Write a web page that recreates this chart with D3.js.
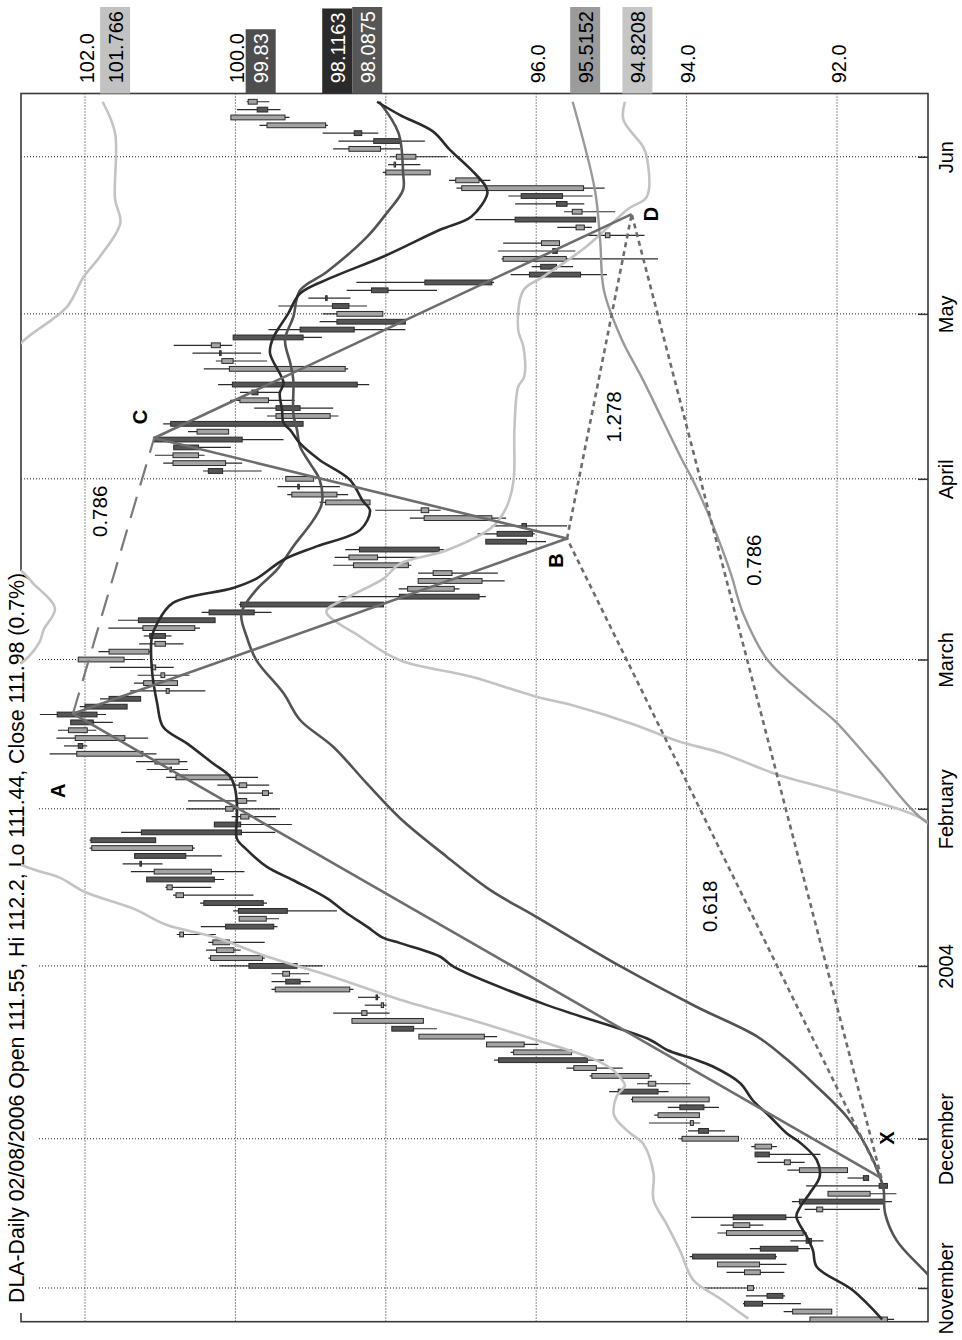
<!DOCTYPE html>
<html><head><meta charset="utf-8">
<script src="https://cdn.jsdelivr.net/npm/d3@7"></script>
<style>
body{margin:0;background:#fff}
svg text{font-family:"Liberation Sans",Arial,Helvetica,sans-serif}
</style>
</head><body>
<svg id="c" width="962" height="1340"></svg>
<script>
// ---------------- DATA ----------------
const dates = [
"2003-10-28","2003-10-29","2003-10-30","2003-10-31",
"2003-11-03","2003-11-04","2003-11-05","2003-11-06","2003-11-07","2003-11-10","2003-11-11","2003-11-12","2003-11-13","2003-11-14","2003-11-17","2003-11-18","2003-11-19","2003-11-20","2003-11-21","2003-11-24","2003-11-25","2003-11-26","2003-11-28",
"2003-12-01","2003-12-02","2003-12-03","2003-12-04","2003-12-05","2003-12-08","2003-12-09","2003-12-10","2003-12-11","2003-12-12","2003-12-15","2003-12-16","2003-12-17","2003-12-18","2003-12-19","2003-12-22","2003-12-23","2003-12-24","2003-12-26","2003-12-29","2003-12-30","2003-12-31",
"2004-01-02","2004-01-05","2004-01-06","2004-01-07","2004-01-08","2004-01-09","2004-01-12","2004-01-13","2004-01-14","2004-01-15","2004-01-16","2004-01-20","2004-01-21","2004-01-22","2004-01-23","2004-01-26","2004-01-27","2004-01-28","2004-01-29","2004-01-30",
"2004-02-02","2004-02-03","2004-02-04","2004-02-05","2004-02-06","2004-02-09","2004-02-10","2004-02-11","2004-02-12","2004-02-13","2004-02-17","2004-02-18","2004-02-19","2004-02-20","2004-02-23","2004-02-24","2004-02-25","2004-02-26","2004-02-27",
"2004-03-01","2004-03-02","2004-03-03","2004-03-04","2004-03-05","2004-03-08","2004-03-09","2004-03-10","2004-03-11","2004-03-12","2004-03-15","2004-03-16","2004-03-17","2004-03-18","2004-03-19","2004-03-22","2004-03-23","2004-03-24","2004-03-25","2004-03-26","2004-03-29","2004-03-30","2004-03-31",
"2004-04-01","2004-04-02","2004-04-05","2004-04-06","2004-04-07","2004-04-08","2004-04-12","2004-04-13","2004-04-14","2004-04-15","2004-04-16","2004-04-19","2004-04-20","2004-04-21","2004-04-22","2004-04-23","2004-04-26","2004-04-27","2004-04-28","2004-04-29","2004-04-30",
"2004-05-03","2004-05-04","2004-05-05","2004-05-06","2004-05-07","2004-05-10","2004-05-11","2004-05-12","2004-05-13","2004-05-14","2004-05-17","2004-05-18","2004-05-19","2004-05-20","2004-05-21","2004-05-24","2004-05-25","2004-05-26","2004-05-27","2004-05-28",
"2004-06-01","2004-06-02","2004-06-03","2004-06-04","2004-06-07","2004-06-08","2004-06-09","2004-06-10"];

const open = [91.33,92.07,93.23,92.93,93.11,null,93.02,93.03,93.92,93.02,92.41,92.45,93.16,93.38,92.19,92.50,91.56,91.44,91.65,91.86,92.62,93.09,92.87,
93.31,93.84,93.91,93.83,94.09,93.70,94.91,94.41,94.50,95.20,96.50,95.53,96.16,96.69,97.92,97.50,98.25,98.03,98.13,98.48,99.33,99.28,
99.82,99.64,100.02,100.08,100.69,100.13,99.59,99.96,100.42,100.69,100.84,101.18,100.32,101.27,101.34,100.57,101.92,101.25,100.28,99.82,
100.03,99.85,99.56,99.85,100.07,100.87,100.75,101.23,102.09,101.47,101.97,102.19,102.37,102.00,101.68,100.88,100.77,100.94,101.06,
101.48,101.15,100.93,101.14,100.54,101.29,100.35,99.93,97.82,97.09,96.72,97.12,97.70,98.11,98.35,96.67,96.52,96.19,96.59,97.43,98.21,98.65,99.17,
98.96,100.36,100.13,100.49,100.82,101.08,100.09,100.86,98.74,99.46,99.56,99.78,100.04,null,98.54,100.03,100.21,100.20,100.03,99.14,98.65,
98.04,98.71,98.80,98.19,97.48,96.09,95.94,95.60,95.78,95.69,95.02,95.36,96.28,95.39,95.73,96.20,95.37,96.76,97.41,97.87,
97.60,98.07,98.16,98.42,98.80,99.34,99.71,99.71];
const high = [92.36,92.71,93.25,93.21,93.79,null,93.47,93.59,93.96,93.16,92.62,93.59,93.55,93.94,92.43,92.60,92.12,92.41,91.86,92.66,93.06,93.09,93.14,
94.10,93.98,94.50,94.43,94.25,94.74,95.03,94.66,95.29,95.60,96.56,96.34,96.66,97.56,97.92,98.45,98.70,98.28,98.37,99.52,99.52,99.52,
100.21,100.36,100.39,100.36,100.78,100.46,99.95,100.03,100.47,100.83,100.93,101.18,101.39,101.50,101.34,101.94,101.94,101.52,100.28,100.05,
100.65,100.63,99.96,100.24,100.92,101.18,101.32,102.47,102.28,102.38,102.36,102.19,102.60,102.07,101.80,101.40,101.35,101.30,101.67,
102.09,101.82,101.28,101.22,101.69,101.56,100.45,99.95,98.63,97.83,97.57,97.57,98.70,98.68,98.54,96.67,96.78,96.59,97.68,98.14,98.88,99.31,99.44,
99.33,100.43,100.96,101.07,100.82,101.08,100.63,100.96,99.58,99.75,100.07,99.94,100.23,null,100.42,100.26,100.57,100.82,100.03,99.56,98.88,
98.84,99.43,99.03,98.52,98.39,96.34,96.06,96.46,96.51,96.44,95.34,95.72,96.81,95.63,96.28,96.37,97.06,97.16,98.04,97.97,
97.95,98.70,98.63,98.84,99.68,100.06,99.98,99.85];
const low = [91.24,92.07,92.48,92.69,93.09,null,92.70,92.67,92.80,92.36,92.18,92.40,92.98,92.47,91.43,91.27,91.21,91.33,91.58,91.86,92.43,92.22,92.80,
93.31,93.49,93.82,93.83,93.57,93.70,94.24,93.95,94.46,94.85,95.10,95.50,95.97,96.52,97.32,97.50,97.95,97.99,98.08,98.43,99.00,99.02,
98.84,99.61,99.93,99.61,100.26,99.44,99.42,98.65,99.58,99.76,100.32,100.15,99.88,100.97,100.18,100.54,101.06,99.47,99.25,99.46,
99.41,99.72,99.50,99.55,99.70,100.63,100.64,101.05,101.97,101.16,101.85,101.63,101.72,101.44,101.26,100.40,100.77,100.61,100.82,
101.22,101.11,100.69,100.85,100.47,100.27,99.52,98.03,96.67,97.02,96.42,96.51,97.66,97.58,97.23,95.87,96.02,95.59,96.40,97.27,98.21,98.50,98.61,
98.96,99.65,99.91,100.41,100.06,99.36,100.09,99.10,98.63,98.70,99.21,99.41,98.22,null,98.50,99.58,99.66,100.04,98.85,97.74,97.74,
98.04,98.25,98.47,97.32,96.56,95.06,95.51,94.38,95.48,95.69,94.56,95.26,95.21,94.95,95.36,95.25,95.09,96.61,97.41,97.54,
97.19,97.81,97.48,98.10,98.77,99.28,99.40,99.55];
const close = [92.36,92.59,92.99,92.72,93.19,null,93.23,93.59,92.82,92.52,92.34,93.47,93.38,92.68,92.27,91.38,92.12,91.33,91.58,92.50,92.70,92.90,93.09,
94.06,93.71,93.95,94.38,93.77,94.72,94.38,94.51,95.26,95.50,95.32,96.30,96.66,97.56,97.63,98.45,98.32,98.06,98.11,99.47,99.14,99.37,
99.18,100.33,100.25,100.30,100.74,99.49,99.95,99.31,99.63,100.79,100.91,100.28,101.08,101.25,100.66,101.91,101.06,99.92,99.93,99.93,
100.13,99.98,99.64,99.95,100.79,100.85,101.07,102.11,102.03,102.13,102.22,101.89,101.84,101.44,101.26,100.92,101.22,100.99,101.11,
102.09,101.68,101.07,100.93,101.23,100.27,99.75,98.03,96.76,97.71,97.57,97.37,98.43,98.49,97.29,96.13,96.05,96.13,97.49,97.53,98.80,99.25,99.15,
99.33,100.17,100.83,100.83,100.49,99.91,100.51,99.10,99.46,99.14,99.94,99.70,98.38,null,100.08,100.18,100.19,100.32,99.10,98.42,97.74,
98.65,98.49,98.78,97.97,96.59,95.41,95.73,96.44,95.72,95.93,95.08,95.47,95.21,95.52,95.59,95.65,96.99,97.07,98.00,97.89,
97.86,98.49,97.81,98.32,99.58,100.06,99.57,99.83];

// indicator lines: [trading-day index, price]
const maFast = [[0,91.40],[3.7,91.79],[6.7,92.27],[8.8,92.32],[10.5,92.40],[13.1,92.54],[14.3,92.49],[16.1,92.36],[18.2,92.23],[20.3,92.27],[22.5,92.49],[23.7,92.67],[25.8,92.89],[27.9,93.12],[30.1,93.29],[32.2,93.65],[33.2,93.92],[34.3,94.26],[35.6,94.49],[40.2,95.91],[44.9,97.10],[46.2,97.28],[47.9,97.81],[48.6,98.04],[50.0,98.25],[51.7,98.52],[53.6,98.78],[55.9,99.23],[57.6,99.58],[59.8,99.85],[61.2,99.98],[63.8,99.98],[65.7,99.98],[67.8,100.01],[69.1,100.07],[70.8,100.30],[73.3,100.64],[75.4,100.96],[78.4,101.04],[82.7,101.11],[86.9,101.11],[88.6,101.04],[91.2,100.83],[93.1,100.03],[94.3,99.72],[96.7,99.36],[98.4,98.92],[100.5,98.34],[103.0,98.21],[104.1,98.30],[106.9,98.48],[109.4,98.88],[111.5,99.14],[113.2,99.27],[114.1,99.36],[115.8,99.38],[117.9,99.41],[119.2,99.36],[123.0,99.54],[124.9,99.50],[128.0,99.30],[130.6,99.14],[132.7,98.70],[135.3,98.03],[138.7,97.28],[140.4,96.86],[143.3,96.65],[144.2,96.67],[146.3,96.86],[148.9,97.15],[151.2,97.37],[153.3,97.81],[155,98.1163]];
const maSlow = [[3,90.5],[6.3,90.85],[10.1,91.21],[13.5,91.36],[16.5,91.38],[18.2,91.43],[22.0,91.61],[25.8,91.87],[30.1,92.32],[33.2,92.68],[36.0,93.06],[39.8,93.87],[44.9,94.87],[51.3,96.01],[54.7,96.62],[58.9,97.19],[63.8,97.81],[68.2,98.25],[72.9,98.70],[76.3,99.14],[79.7,99.36],[83.9,99.72],[86.9,99.85],[89.9,99.92],[92.9,99.72],[95.4,99.45],[98.4,99.23],[101.8,98.96],[103.9,98.85],[106.9,98.88],[109.0,99.01],[111.1,99.14],[113.2,99.18],[115.3,99.23],[119.6,99.23],[121.7,99.27],[124.7,99.34],[127.6,99.23],[131.0,99.14],[133.3,98.79],[137.8,98.25],[140.8,97.99],[143.8,97.77],[145.9,97.77],[151.0,97.83],[155,98.0875]];
const bandUpper = [[0.1,93.18],[2.7,93.56],[5.0,93.91],[8.8,94.09],[12.2,94.27],[15.2,94.44],[18.6,94.44],[22.4,94.58],[23.7,94.75],[25.4,94.93],[26.2,94.97],[28.4,94.93],[29.8,94.82],[30.5,94.86],[31.7,94.97],[33.2,95.25],[35.6,96.01],[38.1,96.86],[40.7,97.81],[43.6,98.70],[46.2,99.58],[48.7,100.29],[50.2,100.91],[52.3,101.36],[54.4,102.0],[56.2,102.33],[57.3,102.69],[59,103.1],[62,103.4],[66,103.6],[72,103.6],[78,103.5],[82,103.1],[83.9,102.80],[86.3,102.60],[87.8,102.55],[90.5,102.40],[93.7,102.69],[95.4,102.86],[98,103.3],[105,103.6],[112,103.7],[118,103.5],[122,103.1],[124.9,102.78],[128.9,102.24],[132.7,102.02],[135.3,101.80],[139.6,101.53],[142.6,101.60],[151.0,101.60],[155,101.766]];
const bandLower = [[60,90.3],[63.8,90.88],[64.9,91.16],[67.8,92.21],[69.3,92.78],[72.1,93.54],[73.6,94.11],[75.8,94.72],[78.2,95.53],[79.3,96.01],[81.8,96.86],[83.9,97.81],[86.9,98.34],[90.1,98.79],[91.6,98.57],[94.3,98.03],[96.2,97.81],[97.9,97.19],[100.9,96.58],[103.5,96.39],[106.9,96.30],[113.2,96.29],[118.7,96.24],[120.0,96.16],[123.8,96.17],[126.0,96.24],[131.0,96.17],[132.7,95.91],[136.5,95.34],[141.4,94.77],[142.9,94.53],[148.0,94.53],[149.3,94.58],[152.7,94.84],[155,94.8208]];
const trendLine = [[60,90.2],[63.8,90.88],[70.4,91.49],[76.1,92.02],[78.8,92.35],[83.9,92.92],[89.9,93.25],[92.9,93.35],[94.3,93.39],[101.8,93.68],[106.9,93.92],[109.4,94.06],[119.6,94.58],[124.9,94.87],[131.0,95.10],[137.4,95.15],[143.8,95.22],[155,95.5152]];

// harmonic pattern
const patternNames = ["X","A","B","C","D"];
const patternIdx   = [18, 77.1, 99.4, 112.2, 140.7];
const patternPrice = [91.41, 102.16, 95.59, 101.08, 94.73];
const fibFrom = ["X","A","B","X"];
const fibTo   = ["B","C","D","D"];
const fibText = ["0.618","0.786","1.278","0.786"];

// axes
const priceGrid  = [102,100,98,96,94,92];
const priceTicks = [102,100,96,94,92];
const monthLabels = ["November","December","2004","February","March","April","May","Jun"];
const lastValues = [101.766, 99.83, 98.1163, 98.0875, 95.5152, 94.8208];
const lastTexts  = ["101.766","99.83","98.1163","98.0875","95.5152","94.8208"];
const title = "DLA-Daily 02/08/2006 Open 111.55, Hi 112.2, Lo 111.44, Close 111.98 (0.7%)";

// ---------------- DRAW ----------------
const svg = d3.select("#c");
const P = {l:21, r:928, t:93.5, b:1321.7};
const FS = 20;
const xP = d3.scaleLinear().domain([102.851, 90.790]).range([P.l, P.r]);
const yT = d3.scaleLinear().domain([-0.29, 156.05]).range([P.b, P.t]);

svg.append("rect").attr("width",962).attr("height",1340).attr("fill","#fff");
svg.append("defs").append("clipPath").attr("id","clip").append("rect")
  .attr("x",P.l).attr("y",P.t).attr("width",P.r-P.l).attr("height",P.b-P.t);

// month start indices
const monthIdx = [];
dates.forEach((d,i)=>{ if(i>0 && d.slice(5,7)!==dates[i-1].slice(5,7)) monthIdx.push(i); });

// grid
const grid = svg.append("g").attr("stroke","#222").attr("stroke-width",1).attr("stroke-dasharray","1,2");
grid.selectAll(".gv").data(priceGrid).join("line")
  .attr("x1",d=>xP(d)).attr("x2",d=>xP(d)).attr("y1",P.t).attr("y2",P.b);
grid.selectAll(".gh").data(monthIdx).join("line")
  .attr("x1",P.l).attr("x2",P.r).attr("y1",d=>yT(d)).attr("y2",d=>yT(d));

// frame
svg.append("rect").attr("x",P.l).attr("y",P.t).attr("width",P.r-P.l).attr("height",P.b-P.t)
  .attr("fill","none").attr("stroke","#3a3a3a").attr("stroke-width",1.6);

// right (time) axis
const axR = d3.axisRight(yT).tickValues(monthIdx).tickSize(-10).tickFormat((d,i)=>monthLabels[i]);
const gR = svg.append("g").attr("transform",`translate(${P.r},0)`).call(axR);
gR.select(".domain").remove();
gR.attr("font-size",FS).attr("font-family",null);
gR.selectAll(".tick line").attr("stroke","#333").attr("stroke-width",1.5);
gR.selectAll(".tick text").attr("x",0).attr("dy",null).attr("fill","#000")
  .attr("text-anchor","middle").attr("transform","translate(24.5,0) rotate(-90)");

// top (price) axis
const axT = d3.axisTop(xP).tickValues(priceTicks).tickSize(0).tickFormat(d3.format(".1f"));
const gT = svg.append("g").attr("transform",`translate(0,${P.t})`).call(axT);
gT.select(".domain").remove();
gT.attr("font-size",FS).attr("font-family",null);
gT.selectAll(".tick text").attr("y",0).attr("dy",null).attr("fill","#000")
  .attr("text-anchor","start").attr("transform","translate(8.3,-10.2) rotate(-90)");

// last-value boxes
const boxFill = ["#c2c2c2","#4e4e4e","#2a2a2a","#565656","#9b9b9b","#c6c6c6"];
const boxInk  = ["#000","#fff","#fff","#fff","#000","#000"];
const boxW = 30;
const bx = lastValues.map((v,k)=>({k,v,x:xP(v)})).sort((a,b)=>a.x-b.x);
const groups = [];
bx.forEach(b=>{ b.left=b.x-2.5; const g=groups[groups.length-1];
  if(g && b.left < g[g.length-1].left+boxW) g.push(b); else groups.push([b]); });
groups.forEach(g=>{ if(g.length>1){ let right=g[g.length-1].x+3;
  for(let j=g.length-1;j>=0;j--){ g[j].left=right-boxW; right-=boxW; } } });
const gB = svg.append("g");
bx.forEach(b=>{
  const r = gB.append("rect").attr("fill",boxFill[b.k]);
  const t = gB.append("text").text(lastTexts[b.k]).attr("font-size",FS).attr("fill",boxInk[b.k])
    .attr("transform",`translate(${b.left+22.7},83.3) rotate(-90)`);
  const L = t.node().getComputedTextLength();
  r.attr("x",b.left).attr("width",boxW).attr("y",83.3-L-4).attr("height",P.t-(83.3-L-4));
});

// title with white background
const tt = svg.append("text").text(title).attr("font-size",21.3).attr("fill","#000")
  .attr("transform","translate(24,1303) rotate(-90)");
const TL = tt.node().getComputedTextLength();
svg.insert("rect", function(){return tt.node();}).attr("x",0).attr("y",1303-TL-2).attr("width",37).attr("height",TL+12).attr("fill","#fff");

// plot content
const pg = svg.append("g").attr("clip-path","url(#clip)");
const lineGen = d3.line().x(d=>xP(d[1])).y(d=>yT(d[0])).curve(d3.curveCatmullRom.alpha(0.5));

// candles
const idx = d3.range(dates.length).filter(i=>open[i]!=null);
const cg = pg.append("g");
cg.selectAll("line").data(idx).join("line")
  .attr("x1",i=>xP(high[i])).attr("x2",i=>xP(low[i]))
  .attr("y1",i=>yT(i)).attr("y2",i=>yT(i))
  .attr("stroke","#2a2a2a").attr("stroke-width",1.2);
cg.selectAll("rect").data(idx).join("rect")
  .attr("x",i=>xP(Math.max(open[i],close[i])))
  .attr("width",i=>Math.max(1.5, xP(Math.min(open[i],close[i]))-xP(Math.max(open[i],close[i]))))
  .attr("y",i=>yT(i)-2.4).attr("height",4.8)
  .attr("fill",i=>close[i]>=open[i]?"#a4a4a4":"#555")
  .attr("stroke","#2a2a2a").attr("stroke-width",1);

// indicator lines
const series = [
  {d:bandUpper, c:"#c3c3c3", w:2.6},
  {d:bandLower, c:"#c3c3c3", w:2.6},
  {d:trendLine, c:"#999", w:2.4},
  {d:maSlow, c:"#535353", w:2.6},
  {d:maFast, c:"#2b2b2b", w:2.6}
];
pg.selectAll("path.s").data(series).join("path").attr("class","s")
  .attr("d",s=>lineGen(s.d)).attr("fill","none").attr("stroke",s=>s.c).attr("stroke-width",s=>s.w)
  .attr("stroke-linejoin","round");

// pattern
const pt = {};
patternNames.forEach((n,k)=>pt[n]={x:xP(patternPrice[k]), y:yT(patternIdx[k])});
const pathPts = patternNames.map(n=>[pt[n].x,pt[n].y]);
pg.append("path").attr("d",d3.line()(pathPts)).attr("fill","none").attr("stroke","#6d6d6d").attr("stroke-width",2.6).attr("stroke-linejoin","round");
const fibStyle = [{dash:"5,4",c:"#6d6d6d",w:2.6,t:0.425,dx:-38},{dash:"22,12",c:"#7a7a7a",w:2.2,t:0.734,dx:-33},
                  {dash:"5,4",c:"#6d6d6d",w:2.6,t:0.375,dx:22},{dash:"5,4",c:"#6d6d6d",w:2.6,t:0.641,dx:32}];
fibFrom.forEach((f,k)=>{
  const a=pt[f], b=pt[fibTo[k]], st=fibStyle[k];
  pg.append("line").attr("x1",a.x).attr("y1",a.y).attr("x2",b.x).attr("y2",b.y)
    .attr("stroke",st.c).attr("stroke-width",st.w).attr("stroke-dasharray",st.dash);
  const lx=a.x+(b.x-a.x)*st.t+st.dx, ly=a.y+(b.y-a.y)*st.t;
  svg.append("text").text(fibText[k]).attr("font-size",20.5).attr("text-anchor","middle")
    .attr("dominant-baseline","central").attr("transform",`translate(${lx},${ly}) rotate(-90)`);
});
const lblOff = {X:[6,-40],A:[-15,77],B:[-11,22],C:[-14,-21],D:[19,0]};
patternNames.forEach(n=>{
  svg.append("text").text(n).attr("font-size",FS).attr("font-weight","bold").attr("text-anchor","middle")
    .attr("dominant-baseline","central")
    .attr("transform",`translate(${pt[n].x+lblOff[n][0]},${pt[n].y+lblOff[n][1]}) rotate(-90)`);
});
</script>
</body></html>
